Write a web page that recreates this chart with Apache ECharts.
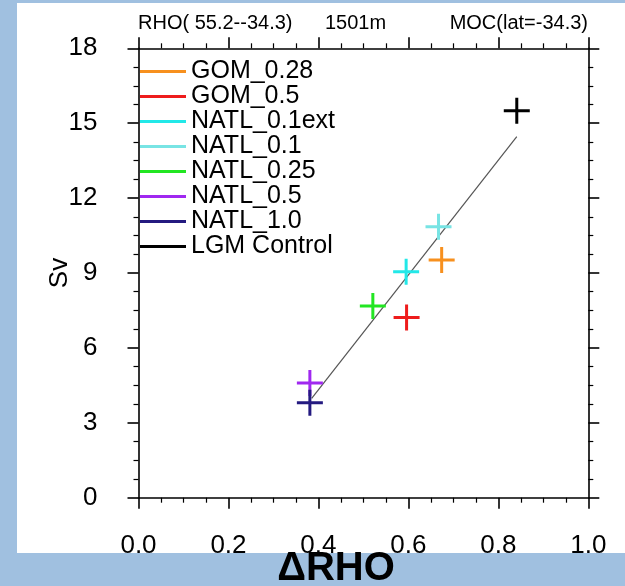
<!DOCTYPE html>
<html>
<head>
<meta charset="utf-8">
<script src="https://cdn.jsdelivr.net/npm/echarts@6/dist/echarts.min.js"></script>
<style>
html,body{margin:0;padding:0;background:#a0c0e0;}
#c{width:625px;height:586px;}
</style>
</head>
<body>
<div id="c"></div>
<script>
// ---- data ----
const seriesNames = ['GOM_0.28','GOM_0.5','NATL_0.1ext','NATL_0.1','NATL_0.25','NATL_0.5','NATL_1.0','LGM Control'];
const seriesColors = ['#f7901e','#ee1c1c','#22e8e8','#78e4e4','#22e622','#a028f0','#241a80','#000000'];
const deltaRho = [0.674, 0.596, 0.595, 0.667, 0.521, 0.381, 0.381, 0.841];
const mocSv    = [9.52,  7.22,  9.05,  10.85, 7.68,  4.59,  3.80,  15.50];
const fitLine  = [[0.385, 3.98], [0.841, 14.46]];
const xTicks = [0.0, 0.2, 0.4, 0.6, 0.8, 1.0];
const yTicks = [0, 3, 6, 9, 12, 15, 18];
const titleLeft = 'RHO( 55.2--34.3)';
const titleMid = '1501m';
const titleRight = 'MOC(lat=-34.3)';
const xName = '\u0394RHO';
const yName = 'Sv';

const FONT = '"Liberation Sans", Arial, Helvetica, sans-serif';
const chart = echarts.init(document.getElementById('c'), null, {renderer:'canvas'});

// plus-shaped filled marker (26 box, arm thickness 3)
const plusPath = 'path://M11.5,0 h3 v11.5 h11.5 v3 h-11.5 v11.5 h-3 v-11.5 h-11.5 v-3 h11.5 z';

const scatterSeries = seriesNames.map((n, i) => ({
  name: n,
  type: 'scatter',
  data: [[deltaRho[i], mocSv[i]]],
  symbol: plusPath,
  symbolSize: 26,
  itemStyle: {color: seriesColors[i], opacity: 1},
  emphasis: {disabled: true},
  z: 5
}));

const axisCommon = {
  min: 0,
  axisLine: {show: true, onZero: false, lineStyle: {color: '#000', width: 1.6}},
  axisTick: {show: true, inside: false, length: 11, lineStyle: {color: '#000', width: 1.6}},
  minorTick: {show: true, splitNumber: 4, length: 5, lineStyle: {color: '#000', width: 1.2}},
  splitLine: {show: false},
  minorSplitLine: {show: false}
};

const option = {
  backgroundColor: '#a0c0e0',
  animation: false,
  textStyle: {fontFamily: FONT},
  grid: {left: 138.5, top: 48.3, width: 449.8, height: 449.4},
  graphic: {elements: [
    {type: 'rect', z: -100, shape: {x: 17, y: 3, width: 608, height: 550}, style: {fill: '#ffffff'}},
    {type: 'text', z: 10, left: 138, top: 13, style: {text: titleLeft, font: '20px ' + FONT, fill: '#000'}},
    {type: 'text', z: 10, left: 325, top: 13, style: {text: titleMid, font: '20px ' + FONT, fill: '#000'}},
    {type: 'text', z: 10, right: 37, top: 13, style: {text: titleRight, font: '20px ' + FONT, fill: '#000'}},
    {type: 'text', z: 10, x: 336, y: 569, style: {text: xName, font: 'bold 40px ' + FONT, fill: '#000', align: 'center', verticalAlign: 'middle'}}
  ]},
  legend: {
    data: seriesNames,
    orient: 'vertical',
    left: 140, top: 59,
    padding: 0,
    itemWidth: 46, itemHeight: 3,
    itemGap: 0,
    icon: 'rect',
    selectedMode: false,
    textStyle: {fontSize: 25, lineHeight: 23.6, color: '#000', fontFamily: FONT}
  },
  xAxis: [
    Object.assign({}, axisCommon, {
      type: 'value', position: 'bottom', max: 1, interval: 0.2,
      axisLabel: {show: true, fontSize: 26, color: '#000', margin: 35, fontFamily: FONT,
        formatter: v => xTicks.find(t => Math.abs(t - v) < 1e-9) !== undefined ? v.toFixed(1) : ''}
    }),
    Object.assign({}, axisCommon, {
      type: 'value', position: 'top', max: 1, interval: 0.2,
      axisLabel: {show: false}
    })
  ],
  yAxis: [
    Object.assign({}, axisCommon, {
      type: 'value', position: 'left', max: 18, interval: 3,
      name: yName, nameLocation: 'middle', nameGap: 66, nameRotate: 90,
      nameMoveOverlap: false,
      nameTextStyle: {fontSize: 26, color: '#000', fontFamily: FONT},
      axisLabel: {show: true, fontSize: 26, color: '#000', margin: 41, fontFamily: FONT,
        formatter: v => yTicks.indexOf(v) >= 0 ? String(v) : ''}
    }),
    Object.assign({}, axisCommon, {
      type: 'value', position: 'right', max: 18, interval: 3,
      axisLabel: {show: false}
    })
  ],
  series: [
    {
      name: 'fit', type: 'line', data: fitLine, symbol: 'none', silent: true,
      lineStyle: {color: '#555', width: 1.2}, z: 3
    }
  ].concat(scatterSeries)
};
chart.setOption(option);
</script>
</body>
</html>
